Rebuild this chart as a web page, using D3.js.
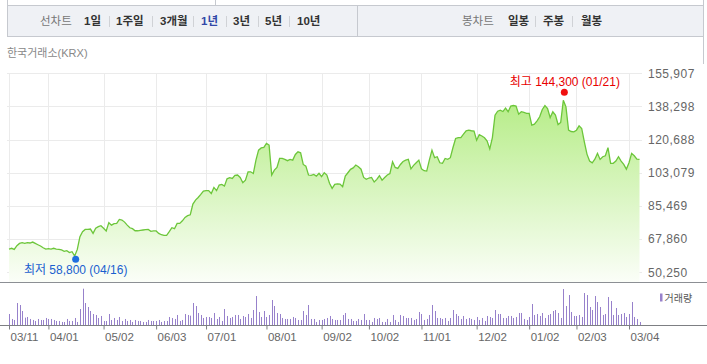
<!DOCTYPE html>
<html>
<head>
<meta charset="utf-8">
<script src="https://cdn.jsdelivr.net/npm/d3@7"></script>
<style>
  body { margin: 0; background: #fff; }
  svg { display: block; font-family: "Liberation Sans", "Noto Sans CJK KR", sans-serif; }
</style>
</head>
<body>
<svg id="chart" width="707" height="364"></svg>
<script>
// 종가 (거래일 순서, 03/11 ~ 03/10)
var closes = [
  62600, 63000, 62400, 64400, 65600, 66000, 65600, 66000, 65800, 66300,
  65600, 64900, 64200, 63300, 62600, 62800, 62600, 63000, 62600, 62400,
  62100, 61400, 61700, 60700, 61200, 58900, 62400, 69200, 71800, 73000,
  73000, 73200, 70900, 73600, 74500, 75000, 73600, 72200, 76600, 75300,
  76100, 76200, 78300, 78000, 76900, 75300, 73900, 73400, 72300, 72300,
  72500, 72700, 72900, 73000, 72000, 72200, 72200, 70900, 70200, 69900,
  69900, 71800, 73900, 73400, 76200, 76200, 77600, 79400, 80300, 80800,
  86500, 88600, 90000, 91600, 93400, 93600, 93600, 92100, 95300, 93600,
  96600, 96900, 96000, 99900, 100500, 100100, 101700, 101900, 100600, 97800,
  99200, 103600, 103600, 102700, 109800, 115100, 116300, 116600, 118700, 117800,
  101900, 104500, 105900, 110700, 110700, 110200, 109500, 110200, 109800, 112800,
  114200, 113700, 107500, 106600, 101900, 101700, 102200, 101300, 102800, 101000,
  103100, 101900, 97500, 94800, 96900, 97200, 97100, 95700, 101300, 103100,
  104900, 105700, 107200, 106300, 105000, 100600, 99600, 100300, 100600, 98200,
  99600, 101500, 99200, 100600, 101900, 102700, 108900, 105900, 105400, 107500,
  109100, 109800, 110200, 105200, 107000, 108400, 109800, 105200, 104200, 104000,
  109800, 115100, 111100, 111600, 108400, 108100, 110700, 110200, 111100, 116500,
  121300, 121800, 121800, 123600, 125400, 125700, 125400, 125200, 120400, 123300,
  122600, 121700, 119900, 115800, 121800, 133700, 135800, 136300, 135600, 137400,
  135500, 138500, 138800, 138500, 134200, 135500, 135100, 134600, 134600, 128400,
  128900, 130700, 132800, 136700, 138800, 137200, 132400, 135500, 133700, 128700,
  129800, 141600, 138100, 125700, 125000, 124800, 125700, 128000, 126600, 119500,
  113000, 109300, 108400, 110300, 113400, 110200, 111600, 112100, 116400, 108100,
  108100, 109300, 111600, 109300, 107500, 105000, 108400, 113400, 112100, 110300,
  110200
];

// 거래량 (만주)
var volumes = [
  34, 19, 16, 67, 61, 43, 23, 25, 19, 16,
  13, 19, 16, 16, 22, 19, 19, 16, 13, 13,
  10, 10, 19, 13, 13, 22, 10, 49, 110, 67,
  55, 43, 34, 31, 22, 28, 13, 13, 34, 16,
  22, 16, 25, 13, 19, 13, 16, 10, 16, 13,
  13, 10, 10, 16, 13, 13, 13, 16, 10, 13,
  13, 25, 22, 19, 31, 13, 16, 34, 31, 29,
  67, 58, 37, 31, 22, 25, 25, 22, 37, 19,
  25, 13, 49, 28, 22, 25, 31, 31, 19, 28,
  25, 34, 22, 46, 88, 40, 25, 43, 25, 31,
  76, 58, 37, 34, 22, 19, 19, 19, 25, 22,
  16, 16, 43, 31, 61, 19, 19, 10, 16, 16,
  19, 22, 28, 19, 16, 16, 16, 31, 37, 19,
  19, 13, 13, 19, 16, 34, 16, 16, 10, 22,
  19, 22, 10, 10, 19, 10, 31, 16, 10, 31,
  28, 22, 22, 22, 16, 19, 40, 34, 16, 19,
  31, 61, 43, 22, 22, 19, 22, 13, 22, 46,
  34, 28, 19, 28, 19, 22, 19, 16, 25, 16,
  22, 13, 28, 25, 22, 46, 34, 34, 22, 22,
  28, 28, 22, 25, 37, 37, 19, 16, 25, 64,
  31, 34, 28, 37, 22, 31, 34, 43, 46, 37,
  22, 109, 58, 91, 40, 28, 28, 31, 25, 97,
  91, 55, 46, 88, 70, 55, 31, 34, 85, 73,
  31, 52, 31, 34, 37, 25, 34, 70, 25, 19,
  10
];

var yTicks = [50250, 67860, 85469, 103079, 120688, 138298, 155907];
var xTickLabels = ["03/11", "04/01", "05/02", "06/03", "07/01", "08/01", "09/02",
                   "10/02", "11/01", "12/02", "01/02", "02/03", "03/04"];
var xTickDays = [0, 15, 36, 56, 75, 98, 119, 137, 157, 178, 198, 216, 236];

var lowPoint = { day: 25, value: 58800, label: "최저 58,800 (04/16)" };
var highPoint = { day: 211, value: 144300, label: "최고 144,300 (01/21)" };

var lineTabs = ["1일", "1주일", "3개월", "1년", "3년", "5년", "10년"];
var candleTabs = ["일봉", "주봉", "월봉"];

var svg = d3.select("#chart");

// 상단 탭 영역
svg.append("rect").attr("x", 7.5).attr("y", 5.5).attr("width", 696).attr("height", 31)
  .attr("fill", "#eff1f5").attr("stroke", "#c6c9cf");
svg.append("line").attr("x1", 7.5).attr("x2", 7.5).attr("y1", 0).attr("y2", 6).attr("stroke", "#c6c9cf");
svg.append("line").attr("x1", 215.5).attr("x2", 215.5).attr("y1", 0).attr("y2", 6).attr("stroke", "#c6c9cf");
svg.append("line").attr("x1", 703.5).attr("x2", 703.5).attr("y1", 0).attr("y2", 64).attr("stroke", "#c6c9cf");
svg.append("line").attr("x1", 357.5).attr("x2", 357.5).attr("y1", 6).attr("y2", 36).attr("stroke", "#c6c9cf");

var tabY = 21;
svg.append("text").attr("x", 40).attr("y", tabY).attr("dy", "0.35em")
  .attr("font-size", 11.5).attr("fill", "#777").text("선차트");
var lineTabX = [84, 116, 160, 201, 233, 265, 297];
var lineSepX = [109, 152, 193, 226, 258, 289];
svg.selectAll(".ltab").data(lineTabs).enter().append("text")
  .attr("class", "ltab")
  .attr("x", (d, i) => lineTabX[i]).attr("y", tabY).attr("dy", "0.35em")
  .attr("font-size", 11.5).attr("font-weight", "bold")
  .attr("fill", d => d == "1년" ? "#3248a8" : "#333")
  .text(d => d);
svg.selectAll(".lsep").data(lineSepX).enter().append("line")
  .attr("x1", d => d + 0.5).attr("x2", d => d + 0.5).attr("y1", 16).attr("y2", 27)
  .attr("stroke", "#d0d2d6");

svg.append("text").attr("x", 462).attr("y", tabY).attr("dy", "0.35em")
  .attr("font-size", 11.5).attr("fill", "#777").text("봉차트");
var candleTabX = [508, 543, 581];
svg.selectAll(".ctab").data(candleTabs).enter().append("text")
  .attr("x", (d, i) => candleTabX[i]).attr("y", tabY).attr("dy", "0.35em")
  .attr("font-size", 11.5).attr("font-weight", "bold").attr("fill", "#333")
  .text(d => d);
svg.selectAll(".csep").data([535, 572]).enter().append("line")
  .attr("x1", d => d + 0.5).attr("x2", d => d + 0.5).attr("y1", 16).attr("y2", 27)
  .attr("stroke", "#d0d2d6");

svg.append("text").attr("x", 7).attr("y", 53).attr("dy", "0.35em")
  .attr("font-size", 11).attr("fill", "#888").text("한국거래소(KRX)");

// scales
var x = d3.scaleLinear().domain([0, 236]).range([9, 629]);
var y = d3.scaleLinear().domain([50250, 155907]).range([272.3, 73.3]);
var yVol = d3.scaleLinear().domain([0, 110]).range([325.3, 288.7]);

// 그라데이션
var defs = svg.append("defs");
var grad = defs.append("linearGradient").attr("id", "areaGrad")
  .attr("gradientUnits", "userSpaceOnUse")
  .attr("x1", 0).attr("x2", 0).attr("y1", 95).attr("y2", 282);
grad.append("stop").attr("offset", "0%").attr("stop-color", "#b4ec84");
grad.append("stop").attr("offset", "100%").attr("stop-color", "#fbfef8");

// grid
svg.selectAll(".hgrid").data(yTicks).enter().append("line")
  .attr("x1", 7).attr("x2", 642)
  .attr("y1", d => Math.round(y(d)) + 0.5).attr("y2", d => Math.round(y(d)) + 0.5)
  .attr("stroke", "#ebebeb");
svg.selectAll(".vgrid").data(xTickDays).enter().append("line")
  .attr("x1", d => Math.round(x(d)) + 0.5).attr("x2", d => Math.round(x(d)) + 0.5)
  .attr("y1", 73).attr("y2", 282)
  .attr("stroke", "#ebebeb");

// area + line
var area = d3.area()
  .x((d, i) => x(i))
  .y0(282)
  .y1(d => y(d));
var line = d3.line()
  .x((d, i) => x(i))
  .y(d => y(d));

svg.append("path").datum(closes).attr("d", area).attr("fill", "url(#areaGrad)");
svg.append("path").datum(closes).attr("d", line)
  .attr("fill", "none").attr("stroke", "#6cc63a").attr("stroke-width", 1.3);

// y labels
svg.selectAll(".ylab").data(yTicks).enter().append("text")
  .attr("x", 648).attr("y", d => y(d)).attr("dy", "0.35em")
  .attr("font-size", 12).attr("letter-spacing", 0.5).attr("fill", "#666")
  .text(d => d3.format(",")(d));

// 최저/최고 표시
svg.append("circle").attr("cx", x(lowPoint.day) + 1).attr("cy", y(lowPoint.value) + 3)
  .attr("r", 3.5).attr("fill", "#1f6fe0");
svg.append("text").attr("x", x(lowPoint.day) + 1).attr("y", y(lowPoint.value) + 14)
  .attr("dy", "0.35em").attr("text-anchor", "middle")
  .attr("font-size", 12).attr("fill", "#1a5fcf").text(lowPoint.label);

svg.append("circle").attr("cx", x(highPoint.day) + 1).attr("cy", y(highPoint.value) - 3)
  .attr("r", 3.5).attr("fill", "#f01010");
svg.append("text").attr("x", x(highPoint.day) + 1.5).attr("y", y(highPoint.value) - 13.5)
  .attr("dy", "0.35em").attr("text-anchor", "middle")
  .attr("font-size", 12).attr("fill", "#e80000").text(highPoint.label);

// 가격/거래량 경계선
svg.append("line").attr("x1", 0).attr("x2", 707).attr("y1", 282.5).attr("y2", 282.5)
  .attr("stroke", "#8c8f94").attr("stroke-width", 1);

// 거래량 막대
svg.selectAll(".vol").data(volumes).enter().append("rect")
  .attr("x", (d, i) => Math.round(x(i)))
  .attr("y", d => yVol(d))
  .attr("width", 1)
  .attr("height", d => yVol(0) - yVol(d))
  .attr("fill", "#9781cb");

svg.append("line").attr("x1", 0).attr("x2", 707).attr("y1", 325.5).attr("y2", 325.5)
  .attr("stroke", "#7d7f83").attr("stroke-width", 1.2);

// x axis
var xAxis = d3.axisBottom(x).tickValues(xTickDays).tickSize(4)
  .tickFormat((d, i) => xTickLabels[i]);
var gx = svg.append("g").attr("transform", "translate(0,325.5)").call(xAxis);
gx.select(".domain").remove();
gx.selectAll(".tick line").attr("stroke", "#7d7f83");
gx.selectAll(".tick text")
  .attr("text-anchor", "start").attr("x", 1).attr("y", 7.5).attr("dy", "0.71em")
  .attr("font-family", "Liberation Sans, sans-serif")
  .attr("font-size", 11.5).attr("fill", "#666");

// 거래량 범례
svg.append("rect").attr("x", 660).attr("y", 293.5).attr("width", 2.5).attr("height", 8)
  .attr("fill", "#9781cb");
svg.append("text").attr("x", 664.5).attr("y", 298).attr("dy", "0.35em")
  .attr("font-size", 10).attr("fill", "#555").text("거래량");
</script>
</body>
</html>
